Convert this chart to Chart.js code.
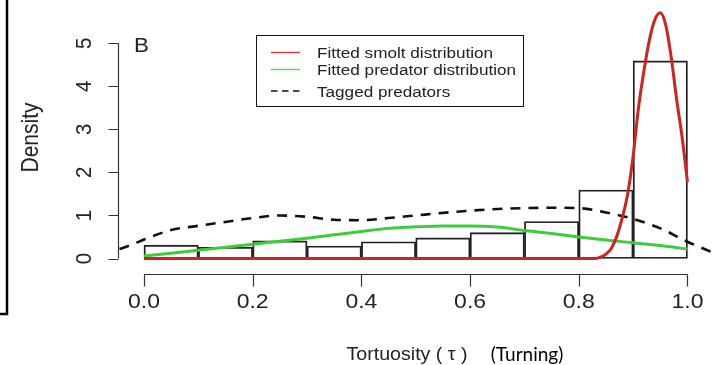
<!DOCTYPE html>
<html><head><meta charset="utf-8">
<script src="https://cdn.jsdelivr.net/npm/chart.js@4.4.0/dist/chart.umd.min.js"></script>
<style>html,body{margin:0;padding:0;background:#fff}#wrap{width:714px;height:365px;position:relative}</style>
</head><body><div id="wrap"><canvas id="c" width="714" height="365"></canvas></div>
<script>
// ---- data ----
const binStarts  = [0.0, 0.1, 0.2, 0.3, 0.4, 0.5, 0.6, 0.7, 0.8, 0.9];
const binWidth   = 0.1;
const binDensity = [0.31, 0.26, 0.41, 0.29, 0.39, 0.48, 0.60, 0.86, 1.59, 4.59];

const smoltX = [0.0, 0.5, 0.83, 0.84, 0.85, 0.86, 0.87, 0.88, 0.89, 0.90, 0.91, 0.92, 0.93, 0.94, 0.95, 0.96, 0.97, 0.98, 0.99, 1.00];
const smoltY = [0.0, 0.0, 0.0, 0.03, 0.10, 0.24, 0.52, 0.95, 1.50, 2.38, 3.52, 4.37, 5.08, 5.55, 5.71, 5.42, 4.68, 3.70, 2.83, 1.78];

const predX = [0.0, 0.05, 0.1, 0.15, 0.2, 0.25, 0.3, 0.35, 0.4, 0.45, 0.5, 0.55, 0.6, 0.65, 0.7, 0.75, 0.8, 0.85, 0.9, 0.95, 1.0];
const predY = [0.06, 0.12, 0.19, 0.26, 0.33, 0.40, 0.47, 0.55, 0.63, 0.70, 0.735, 0.755, 0.755, 0.73, 0.65, 0.58, 0.50, 0.43, 0.365, 0.30, 0.22];

const taggedX = [-0.045, -0.02, 0.0, 0.05, 0.1, 0.15, 0.2, 0.25, 0.3, 0.35, 0.4, 0.45, 0.5, 0.55, 0.6, 0.65, 0.7, 0.75, 0.8, 0.85, 0.9, 0.95, 1.0, 1.05];
const taggedY = [0.22, 0.33, 0.44, 0.66, 0.76, 0.85, 0.94, 1.00, 0.97, 0.90, 0.89, 0.94, 1.00, 1.06, 1.11, 1.15, 1.17, 1.18, 1.17, 1.07, 0.92, 0.70, 0.39, 0.12];

const xTickValues = [0.0, 0.2, 0.4, 0.6, 0.8, 1.0];
const yTickValues = [0, 1, 2, 3, 4, 5];

const seriesLabels = ['Fitted smolt distribution', 'Fitted predator distribution', 'Tagged predators'];
const xTitle = 'Tortuosity ( \u03c4 )';
const xNote = '(Turning)';
const yTitle = 'Density';
const panelTag = 'B';

// ---- styling ----
const RED = 'rgb(205,35,35)';
const GREEN = 'rgb(60,205,60)';
const TXT = '#222';
const SX = 1.12; // horizontal stretch of the reference text

function pts(xs, ys) { return xs.map((x, i) => ({x: x, y: ys[i]})); }

function drawText(ctx, s, x, y, font, align, baseline, rot, color, sx) {
  ctx.save();
  ctx.translate(x, y);
  ctx.scale(sx === undefined ? SX : sx, 1);
  if (rot) ctx.rotate(rot);
  ctx.font = font;
  ctx.textAlign = align;
  ctx.textBaseline = baseline;
  ctx.fillStyle = color || TXT;
  ctx.fillText(s, 0, 0);
  ctx.restore();
}

const decor = {
  id: 'decor',
  afterDraw(chart) {
    const ctx = chart.ctx;
    const xs = chart.scales.x, ys = chart.scales.y;
    const ca = chart.chartArea;
    ctx.save();
    ctx.strokeStyle = '#333';
    ctx.lineWidth = 1.2;
    // x axis
    const by = Math.round(ca.bottom) + 0.5;
    ctx.beginPath();
    ctx.moveTo(xs.getPixelForValue(xTickValues[0]), by);
    ctx.lineTo(xs.getPixelForValue(xTickValues[xTickValues.length - 1]), by);
    xs.ticks.forEach(t => {
      const px = Math.round(xs.getPixelForValue(t.value)) + 0.5;
      ctx.moveTo(px, by); ctx.lineTo(px, by + 12);
    });
    ctx.stroke();
    xs.ticks.forEach(t => {
      drawText(ctx, t.value.toFixed(1), xs.getPixelForValue(t.value), 308, '20.5px "Liberation Sans", Arial, sans-serif', 'center', 'alphabetic', 0);
    });
    // y axis
    const lx = Math.round(ca.left) + 0.5;
    ctx.beginPath();
    ctx.moveTo(lx, ys.getPixelForValue(yTickValues[0]));
    ctx.lineTo(lx, ys.getPixelForValue(yTickValues[yTickValues.length - 1]));
    ys.ticks.forEach(t => {
      const py = Math.round(ys.getPixelForValue(t.value)) + 0.5;
      ctx.moveTo(lx, py); ctx.lineTo(lx - 10, py);
    });
    ctx.stroke();
    ys.ticks.forEach(t => {
      drawText(ctx, String(t.value), 91, ys.getPixelForValue(t.value), '20.5px "Liberation Sans", Arial, sans-serif', 'center', 'alphabetic', -Math.PI / 2);
    });
    // titles
    drawText(ctx, yTitle, 38, 137.5, '21px "Liberation Sans", Arial, sans-serif', 'center', 'alphabetic', -Math.PI / 2);
    drawText(ctx, xTitle, 407, 360, '17.5px "Liberation Sans", Arial, sans-serif', 'center', 'alphabetic', 0);
    drawText(ctx, xNote, 527, 361, '19px Lato, "Open Sans", sans-serif', 'center', 'alphabetic', 0, '#000', 1);
    drawText(ctx, panelTag, 134, 52, '20px "Liberation Sans", Arial, sans-serif', 'left', 'alphabetic', 0);
    // legend
    const lb = {x: 256.5, y: 35.5, w: 267, h: 71};
    ctx.fillStyle = '#fff';
    ctx.fillRect(lb.x, lb.y, lb.w, lb.h);
    ctx.strokeStyle = '#111';
    ctx.lineWidth = 1;
    ctx.strokeRect(lb.x, lb.y, lb.w, lb.h);
    const rowY = [52.5, 69.5, 91];
    chart.data.datasets.filter(d => d.type === 'line').forEach((d, i) => {
      const yy = rowY[i];
      ctx.save();
      ctx.strokeStyle = d.legendColor || d.borderColor;
      ctx.lineWidth = 1.4;
      ctx.setLineDash(d.borderDash && d.borderDash.length ? [6.5, 4.5] : []);
      ctx.beginPath(); ctx.moveTo(271, yy); ctx.lineTo(300, yy); ctx.stroke();
      ctx.restore();
      drawText(ctx, d.label, 317, yy + 5.5, '15.3px "Liberation Sans", Arial, sans-serif', 'left', 'alphabetic', 0);
    });
    // left-edge border remnant of the neighbouring panel
    ctx.strokeStyle = '#000';
    ctx.lineWidth = 2.5;
    ctx.beginPath();
    ctx.moveTo(7, 0); ctx.lineTo(7, 314); ctx.lineTo(0, 314);
    ctx.stroke();
    ctx.restore();
  }
};

const chart = new Chart(document.getElementById('c'), {
  type: 'bar',
  data: {
    datasets: [
      {
        type: 'bar', label: 'Histogram',
        data: binStarts.map((b, i) => ({x: b + binWidth / 2, y: binDensity[i]})),
        backgroundColor: 'rgba(255,255,255,0)', borderColor: '#222', borderWidth: 1.2,
        borderSkipped: false, barPercentage: 1, categoryPercentage: 1, order: 10
      },
      {
        type: 'line', label: seriesLabels[0], data: pts(smoltX, smoltY),
        borderColor: RED, legendColor: 'rgb(210,60,60)', borderWidth: 3, pointRadius: 0,
        cubicInterpolationMode: 'monotone', order: 1
      },
      {
        type: 'line', label: seriesLabels[1], data: pts(predX, predY),
        borderColor: GREEN, legendColor: 'rgb(90,215,90)', borderWidth: 3, pointRadius: 0,
        cubicInterpolationMode: 'monotone', order: 2
      },
      {
        type: 'line', label: seriesLabels[2], data: pts(taggedX, taggedY),
        borderColor: '#111', borderWidth: 2.6, borderDash: [10, 8], pointRadius: 0,
        cubicInterpolationMode: 'monotone', order: 3
      }
    ]
  },
  options: {
    responsive: false, animation: false, devicePixelRatio: 1,
    layout: {padding: 0},
    plugins: {legend: {display: false}, tooltip: {enabled: false}},
    scales: {
      x: {
        type: 'linear', min: -0.0478, max: 1.0488, offset: false,
        grid: {display: false}, border: {display: false}, ticks: {display: false},
        afterBuildTicks: s => { s.ticks = xTickValues.map(v => ({value: v})); },
        afterFit: s => { s.height = 91; }
      },
      y: {
        type: 'linear', min: -0.36, max: 6.006,
        grid: {display: false}, border: {display: false}, ticks: {display: false},
        afterBuildTicks: s => { s.ticks = yTickValues.map(v => ({value: v})); },
        afterFit: s => { s.width = 118; }
      }
    }
  },
  plugins: [decor]
});
</script></body></html>
